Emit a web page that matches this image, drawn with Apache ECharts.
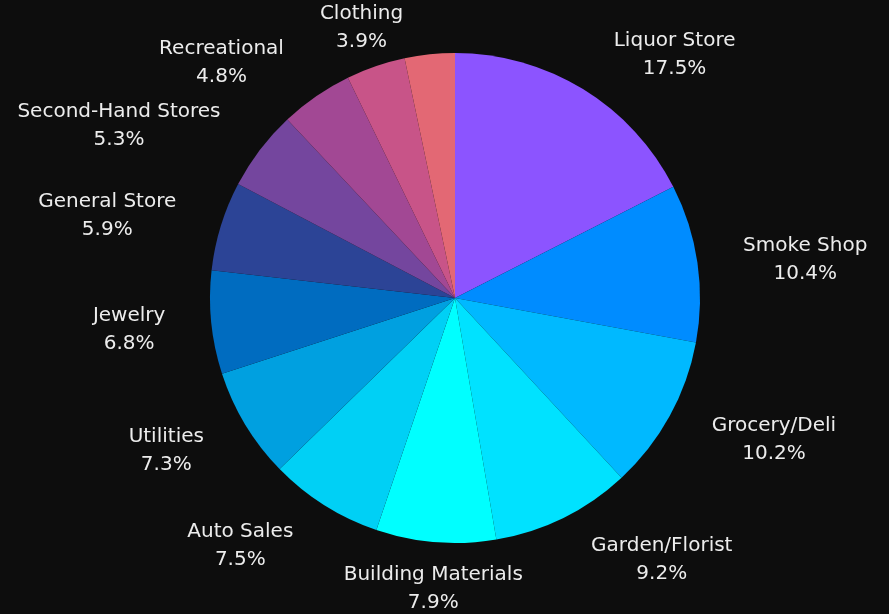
<!DOCTYPE html>
<html>
<head>
<meta charset="utf-8">
<title>Share by store type</title>
<script src="https://cdn.jsdelivr.net/npm/echarts@6/dist/echarts.min.js"></script>
<style>
  html, body { margin: 0; padding: 0; background: #0d0d0d; }
  #chart { width: 889px; height: 614px; }
</style>
</head>
<body>
<div id="chart"></div>
<script>
// Store categories and their share of the total (percent)
const categories = [
  'Liquor Store', 'Smoke Shop', 'Grocery/Deli', 'Garden/Florist',
  'Building Materials', 'Auto Sales', 'Utilities', 'Jewelry',
  'General Store', 'Second-Hand Stores', 'Recreational', 'Clothing', 'Other'
];
const shares = [17.5, 10.4, 10.2, 9.2, 7.9, 7.5, 7.3, 6.8, 5.9, 5.3, 4.8, 3.9, 3.3];
const sliceColors = [
  '#8c54ff', '#008cff', '#00b9ff', '#00e2ff', '#00ffff', '#00d0f5', '#00a0e0',
  '#006cc0', '#2c4496', '#74469e', '#a24894', '#c85488', '#e36874'
];
// categories whose label is left off
const unlabeled = ['Other'];

const CX = 455, CY = 298, RADIUS = 245;
// labels ride on a slightly wide ellipse around the pie
const LABEL_RX = 277, LABEL_RY = 270;

// mid angle of each slice, radians clockwise from 12 o'clock
const total = shares.reduce((a, b) => a + b, 0);
const midAngles = [];
let acc = 0;
shares.forEach(v => { midAngles.push((acc + v / 2) / total * Math.PI * 2); acc += v; });

function smoothstep(e0, e1, x) {
  const t = Math.min(1, Math.max(0, (x - e0) / (e1 - e0)));
  return t * t * (3 - 2 * t);
}

const chart = echarts.init(document.getElementById('chart'), null, { renderer: 'canvas' });

chart.setOption({
  backgroundColor: '#0d0d0d',
  animation: false,
  series: [{
    type: 'pie',
    center: [CX, CY],
    radius: RADIUS,
    startAngle: 90,
    clockwise: true,
    avoidLabelOverlap: false,
    data: categories.map((name, i) => ({
      name: name,
      value: shares[i],
      itemStyle: { color: sliceColors[i] },
      label: { show: unlabeled.indexOf(name) < 0 }
    })),
    itemStyle: { borderWidth: 0 },
    emphasis: { disabled: true },
    label: {
      show: true,
      position: 'outside',
      formatter: p => p.name + '\n' + p.value.toFixed(1) + '%',
      color: '#ececec',
      fontFamily: 'DejaVu Sans',
      fontSize: 20,
      lineHeight: 28,
      align: 'center'
    },
    labelLine: { show: false },
    // side labels sit just beside their slice; labels near the top or bottom are centred on it
    labelLayout: function (p) {
      const a = midAngles[p.dataIndex];
      const s = Math.sin(a), c = Math.cos(a);
      const hw = p.labelRect.width / 2, hh = p.labelRect.height / 2;
      const ax = CX + LABEL_RX * s, ay = CY - LABEL_RY * c;
      const sx = s < 0 ? -1 : 1;
      const sy = c > 0 ? -1 : 1;
      const side = smoothstep(0.3, 0.45, Math.abs(s));
      return {
        x: ax + sx * (hw + hh / 2) * side,
        y: ay + 3 + sy * 0.68 * hh * Math.abs(c),
        align: 'center',
        verticalAlign: 'middle'
      };
    }
  }]
});
</script>
</body>
</html>
